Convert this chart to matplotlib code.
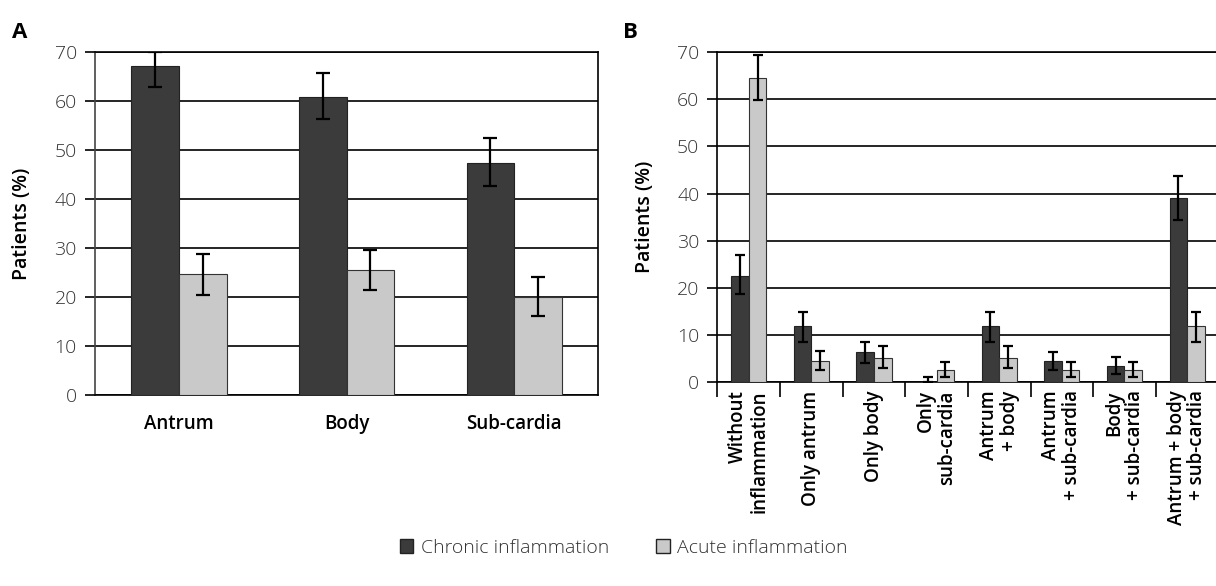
import matplotlib

matplotlib.use("Agg")
import matplotlib.pyplot as plt  # noqa: E402
import numpy as np  # noqa: E402
from matplotlib.patches import Patch  # noqa: E402

plt.rcParams["font.family"] = ["Open Sans", "DejaVu Sans"]

DARK = "#3b3b3b"
LIGHT = "#c9c9c9"

# panel A: by region
regions = ["Antrum", "Body", "Sub-cardia"]
a_chronic = [67.2, 60.9, 47.4]
a_chronic_lo = [4.4, 4.6, 4.8]
a_chronic_hi = [2.8, 4.9, 5.0]
a_acute = [24.6, 25.5, 20.0]
a_acute_lo = [4.1, 4.1, 3.8]
a_acute_hi = [4.2, 4.1, 4.0]

# panel B: by combination
combos = ["Without\ninflammation", "Only antrum", "Only body", "Only\nsub-cardia",
          "Antrum\n+ body", "Antrum\n+ sub-cardia", "Body\n+ sub-cardia",
          "Antrum + body\n+ sub-cardia"]
b_chronic = [22.6, 12.0, 6.4, 0.0, 12.0, 4.5, 3.5, 39.1]
b_chronic_lo = [3.9, 3.4, 2.4, 0.0, 3.6, 1.9, 1.7, 4.7]
b_chronic_hi = [4.3, 2.9, 2.2, 1.0, 2.9, 1.9, 1.9, 4.7]
b_acute = [64.6, 4.5, 5.1, 2.5, 5.1, 2.5, 2.5, 11.8]
b_acute_lo = [4.7, 2.0, 2.1, 1.4, 2.1, 1.4, 1.4, 3.2]
b_acute_hi = [4.9, 2.0, 2.5, 1.8, 2.5, 1.8, 1.8, 3.0]

fig = plt.figure(figsize=(12.16, 5.86), dpi=100)
axA = fig.add_axes([0.078, 0.326, 0.414, 0.585])
axB = fig.add_axes([0.590, 0.348, 0.412, 0.563])

tick_font = dict(fontsize=14, fontweight="light", color="#333333")
lab_font = dict(fontsize=13.5, fontweight="semibold")


def bars(ax, n, chronic, c_lo, c_hi, acute, a_lo, a_hi, w, cap):
    x = np.arange(n)
    ekw = dict(ecolor="black", elinewidth=1.6, capsize=cap, capthick=1.6)
    ax.bar(x - w / 2, chronic, w, color=DARK, edgecolor="#222222", linewidth=0.8,
           yerr=[c_lo, c_hi], error_kw=ekw, zorder=3)
    ax.bar(x + w / 2, acute, w, color=LIGHT, edgecolor="#333333", linewidth=0.8,
           yerr=[a_lo, a_hi], error_kw=ekw, zorder=3)
    ax.set_ylim(0, 70)
    ax.set_yticks(range(0, 71, 10))
    ax.set_yticklabels([str(v) for v in range(0, 71, 10)], **tick_font)
    ax.yaxis.grid(True, color="black", linewidth=1.2, zorder=0)
    ax.set_axisbelow(True)
    ax.tick_params(axis="y", length=7, width=1.2, direction="out", pad=6)
    ax.set_ylabel("Patients (%)", fontsize=14, fontweight="semibold", labelpad=16)
    for s in ax.spines.values():
        s.set_linewidth(1.2)
    return x


xa = bars(axA, 3, a_chronic, a_chronic_lo, a_chronic_hi, a_acute, a_acute_lo,
          a_acute_hi, 0.285, 5)
axA.set_xlim(-0.5, 2.5)
axA.set_xticks(xa)
axA.set_xticklabels(regions, **lab_font)
axA.tick_params(axis="x", length=0, pad=14)
axA.spines["left"].set_color("#444444")

xb = bars(axB, 8, b_chronic, b_chronic_lo, b_chronic_hi, b_acute, b_acute_lo,
          b_acute_hi, 0.28, 3.6)
axB.set_xlim(-0.5, 7.5)
axB.set_xticks(xb)
axB.set_xticklabels(combos, rotation=90, ha="center", va="top",
                    multialignment="right", linespacing=1.05, **lab_font)
axB.tick_params(axis="x", which="major", length=0, pad=6)
axB.set_xticks(np.arange(-0.5, 7.6, 1), minor=True)
axB.tick_params(axis="x", which="minor", length=11, width=1.2, direction="out")
axB.spines["right"].set_visible(False)

fig.text(0.010, 0.935, "A", fontsize=16, fontweight="bold")
fig.text(0.512, 0.935, "B", fontsize=16, fontweight="bold")

handles = [Patch(facecolor=DARK, edgecolor="#222222", label="Chronic inflammation"),
           Patch(facecolor=LIGHT, edgecolor="#222222", label="Acute inflammation")]
leg = fig.legend(handles=handles, loc="lower center", ncol=2, frameon=False,
                 bbox_to_anchor=(0.513, 0.02), handlelength=0.7, handleheight=0.7,
                 handletextpad=0.4, columnspacing=2.4,
                 prop=dict(family=["Open Sans", "DejaVu Sans"], size=14, weight="light"))
for t in leg.get_texts():
    t.set_color("#333333")

fig.savefig("out.png", dpi=100)
